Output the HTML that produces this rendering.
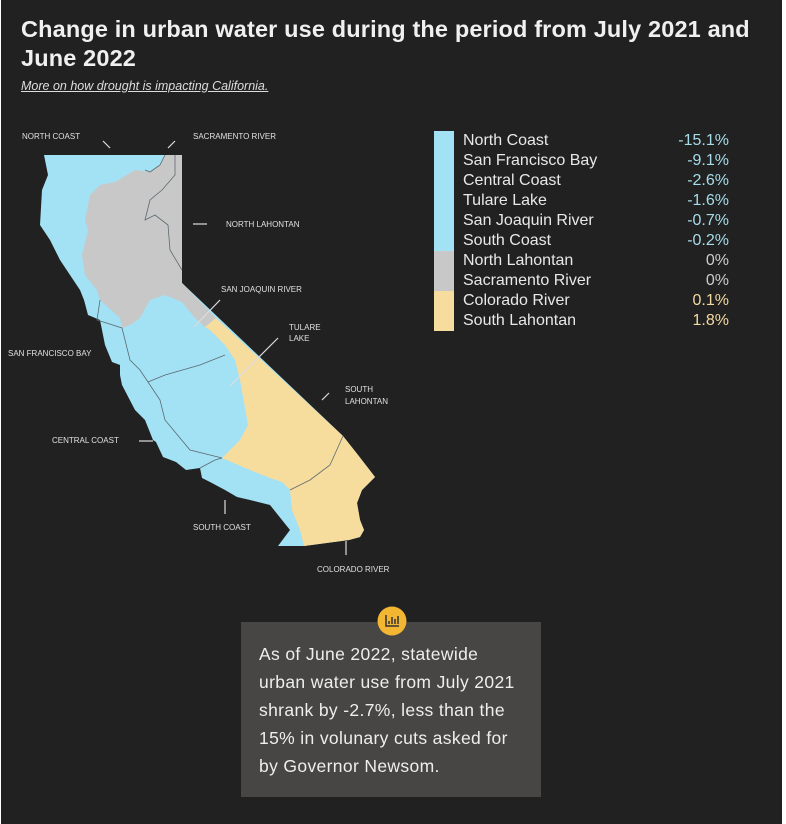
<!DOCTYPE html>
<html><head><meta charset="utf-8"><style>
body{margin:0;background:#fff;width:786px;height:824px;overflow:hidden;font-family:"Liberation Sans",sans-serif}
#c{position:absolute;left:1px;top:0;width:781px;height:824px;background:#212121}
.t{position:absolute;left:21px;top:15px;color:#f0f0f0;font-weight:bold;font-size:23.5px;letter-spacing:0.15px;line-height:29px;width:750px}
.s{position:absolute;left:21px;top:79px;color:#ddd;font-style:italic;text-decoration:underline;font-size:12.5px}
.lg{position:absolute;left:463px;color:#e8e8e8;font-size:16px;line-height:20px}
.v{position:absolute;right:57px;font-size:16px;line-height:20px;text-align:right}
.box{position:absolute;left:241px;top:622px;width:300px;height:175px;background:#474645}
.bt{position:absolute;left:259px;top:640px;color:#eee;font-size:17.5px;letter-spacing:0.35px;line-height:28px}
</style></head><body><div id="c"></div>
<div class="t">Change in urban water use during the period from July 2021 and June 2022</div>
<div class="s">More on how drought is impacting California.</div>
<svg width="786" height="824" style="position:absolute;left:0;top:0">
<polygon fill="#a3e1f4" points="44,155 182,155 182,283 343,436 358,455 375,477 362,490 357,503 360,520 364,530 360,537 349,540 304,546 278,546 290,530 270,505 250,500 237,497 225,490 210,482 202,478 200,468 186,470 176,462 163,457 156,442 153,440 145,420 135,410 122,385 120,375 120,365 112,362 105,345 100,320 88,315 84,300 80,290 60,260 50,240 40,225 42,190 48,175"/>
<polygon fill="#c9c8c8" points="165,155 182,155 182,283 216,318 205,327 195,318 182,302 165,295 150,300 140,318 130,325 122,328 120,318 100,300 97,290 85,275 82,255 88,230 85,220 90,195 100,185 115,182 135,170 150,172 160,165"/>
<polygon fill="#f7dd9d" points="216,318 343,436 358,455 375,477 362,490 357,503 360,520 364,530 360,537 349,540 304,546 300,530 292,510 290,490 282,482 270,478 250,470 222,458 230,450 240,440 248,425 240,380 235,360 225,345 210,330 205,327"/>
<g fill="none" stroke="#5c6a70" stroke-width="0.8">
<polyline points="145,170 150,172 160,165 165,155"/>
<polyline points="182,270 170,250 168,225 155,215 145,220 150,200 162,190 175,175 175,155"/>
<polyline points="100,300 97,320 122,328 130,360 140,370 148,382 165,375 200,365 225,355"/>
<polyline points="148,382 160,400 165,420 190,450 222,458"/>
<polyline points="200,468 215,460 222,458"/>
<polyline points="290,490 310,480 330,465 343,436"/>
</g>
<g stroke="#ddd" stroke-width="1.2">
<line x1="103" y1="141" x2="110" y2="148"/><line x1="168" y1="148" x2="175" y2="141"/>
<line x1="193" y1="224" x2="207" y2="224"/><line x1="194" y1="327" x2="220" y2="300"/>
<line x1="230" y1="386" x2="278" y2="338"/><line x1="322" y1="400" x2="329" y2="393"/>
<line x1="139" y1="441" x2="153" y2="441"/><line x1="225" y1="500" x2="225" y2="514"/>
<line x1="346" y1="541" x2="346" y2="555"/>
</g>
<g fill="#e0e0e0" font-size="8" font-family="Liberation Sans,sans-serif">
<text x="22" y="139">NORTH COAST</text><text x="193" y="139">SACRAMENTO RIVER</text>
<text x="226" y="227">NORTH LAHONTAN</text><text x="221" y="292">SAN JOAQUIN RIVER</text>
<text x="289" y="330">TULARE</text><text x="289" y="341">LAKE</text>
<text x="345" y="392">SOUTH</text><text x="345" y="404">LAHONTAN</text>
<text x="8" y="356">SAN FRANCISCO BAY</text><text x="52" y="443">CENTRAL COAST</text>
<text x="193" y="530">SOUTH COAST</text><text x="317" y="572">COLORADO RIVER</text>
</g>
<rect x="434" y="131" width="20" height="120" fill="#a3e1f4"/>
<rect x="434" y="251" width="20" height="40" fill="#c9c8c8"/>
<rect x="434" y="291" width="20" height="40" fill="#f7dd9d"/>
</svg>
<div class="lg" style="top:131px">North Coast<br>San Francisco Bay<br>Central Coast<br>Tulare Lake<br>San Joaquin River<br>South Coast<br>North Lahontan<br>Sacramento River<br>Colorado River<br>South Lahontan</div>
<div class="v" style="top:131px;color:#a6dcea">-15.1%<br>-9.1%<br>-2.6%<br>-1.6%<br>-0.7%<br>-0.2%</div>
<div class="v" style="top:251px;color:#ccc">0%<br>0%</div>
<div class="v" style="top:291px;color:#f3d9a0">0.1%<br>1.8%</div>
<div class="box"></div>
<svg width="30" height="30" style="position:absolute;left:377px;top:606px"><circle cx="15" cy="15" r="14.5" fill="#f2b632"/><g stroke="#333" stroke-width="1.5"><polyline fill="none" points="9,9 9,20 22,20"/><line x1="12" y1="18" x2="12" y2="15"/><line x1="15" y1="18" x2="15" y2="11"/><line x1="18" y1="18" x2="18" y2="13"/><line x1="21" y1="18" x2="21" y2="10"/></g></svg>
<div class="bt">As of June 2022, statewide<br>urban water use from July 2021<br>shrank by -2.7%, less than the<br>15% in volunary cuts asked for<br>by Governor Newsom.</div>
</body></html>
